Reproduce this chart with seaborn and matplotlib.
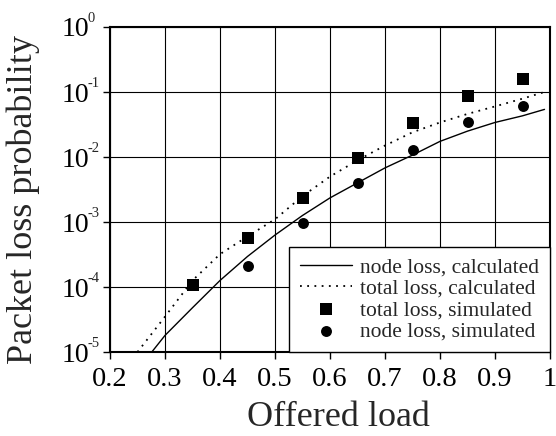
import numpy as np
import pandas as pd
import matplotlib
matplotlib.use("Agg")
import matplotlib.pyplot as plt
import matplotlib.transforms as mtransforms
import seaborn as sns
from matplotlib.ticker import FixedLocator, FixedFormatter

# ---- data ----
node_calc_x = [0.276, 0.30, 0.35, 0.40, 0.45, 0.50, 0.55, 0.60, 0.65, 0.70, 0.75, 0.80, 0.85, 0.90, 0.95, 0.99]
node_calc_y = [1.0e-5, 1.8e-5, 4.8e-5, 1.26e-4, 2.95e-4, 6.3e-4, 1.26e-3, 2.35e-3, 4.0e-3, 6.8e-3, 1.07e-2, 1.74e-2, 2.5e-2, 3.4e-2, 4.3e-2, 5.4e-2]
total_calc_x = [0.25, 0.30, 0.35, 0.40, 0.45, 0.50, 0.55, 0.60, 0.65, 0.70, 0.75, 0.80, 0.85, 0.90, 0.95, 0.99]
total_calc_y = [1.0e-5, 3.5e-5, 1.26e-4, 3.2e-4, 6.0e-4, 1.1e-3, 2.5e-3, 5.0e-3, 8.9e-3, 1.5e-2, 2.4e-2, 3.4e-2, 4.6e-2, 6.0e-2, 7.9e-2, 1.0e-1]
total_sim_x = [0.35, 0.45, 0.55, 0.65, 0.75, 0.85, 0.95]
total_sim_y = [1.07e-4, 5.6e-4, 2.3e-3, 9.6e-3, 3.3e-2, 8.7e-2, 1.58e-1]
node_sim_x = [0.45, 0.55, 0.65, 0.75, 0.85, 0.95]
node_sim_y = [2.1e-4, 9.6e-4, 4.0e-3, 1.3e-2, 3.5e-2, 6.1e-2]

x_ticks = [0.2, 0.3, 0.4, 0.5, 0.6, 0.7, 0.8, 0.9, 1.0]
x_tick_labels = ["0.2", "0.3", "0.4", "0.5", "0.6", "0.7", "0.8", "0.9", "1"]
y_ticks = [1e-5, 1e-4, 1e-3, 1e-2, 1e-1, 1e0]
y_tick_base = ["10", "10", "10", "10", "10", "10"]
y_tick_exps = ["-5", "-4", "-3", "-2", "-1", "0"]

sns.set_style("ticks")
plt.rcParams["font.family"] = ["Liberation Serif", "DejaVu Serif"]

fig = plt.figure(figsize=(5.56, 4.36), dpi=100)
ax = fig.add_axes([110/556, 1-352/436, 440/556, 325/436])

df_node = pd.DataFrame({"x": node_calc_x, "y": node_calc_y})
df_total = pd.DataFrame({"x": total_calc_x, "y": total_calc_y})
df_ts = pd.DataFrame({"x": total_sim_x, "y": total_sim_y})
df_ns = pd.DataFrame({"x": node_sim_x, "y": node_sim_y})

sns.lineplot(data=df_node, x="x", y="y", ax=ax, color="black", lw=1.0,
             label="node loss, calculated")
sns.lineplot(data=df_total, x="x", y="y", ax=ax, color="black", lw=1.3,
             linestyle=(0, (1, 3)), label="total loss, calculated")
sns.scatterplot(data=df_ts, x="x", y="y", ax=ax, color="black", marker="s",
                s=80, edgecolor="black", linewidth=0, label="total loss, simulated")
sns.scatterplot(data=df_ns, x="x", y="y", ax=ax, color="black", marker="o",
                s=62, edgecolor="black", linewidth=0, label="node loss, simulated")

ax.set_yscale("log")
ax.set_xlim(0.2, 1.0)
ax.set_ylim(1e-5, 1e0)
ax.xaxis.set_major_locator(FixedLocator(x_ticks))
ax.xaxis.set_major_formatter(FixedFormatter(x_tick_labels))
ax.yaxis.set_major_locator(FixedLocator(y_ticks))
ax.yaxis.set_major_formatter(FixedFormatter(y_tick_base))
ax.yaxis.set_minor_locator(FixedLocator([]))
ax.grid(True, which="major", color="black", lw=0.8)
ax.tick_params(axis="x", which="major", labelsize=20.5, length=5, width=1,
               direction="out", pad=6, colors="black")
ax.tick_params(axis="y", which="major", labelsize=20, length=5, width=1,
               direction="out", pad=10, colors="black")
for sp in ax.spines.values():
    sp.set_linewidth(1.5)
    sp.set_color("black")

# superscript exponents of the y tick labels
trans = mtransforms.blended_transform_factory(ax.transAxes, ax.transData)
for yv, ex in zip(y_ticks, y_tick_exps):
    ax.annotate(ex, xy=(0, yv), xycoords=trans, xytext=(-16, 6),
                textcoords="offset points", ha="left", va="center",
                fontsize=10.5, annotation_clip=False)

ax.set_xlabel("Offered load", fontsize=26)
ax.xaxis.set_label_coords(0.52, -0.152)
ax.set_ylabel("Packet loss probability", fontsize=26)
ax.yaxis.set_label_coords(-0.16, 0.47)

leg = ax.legend(loc="lower right", fontsize=15.5, frameon=True, fancybox=False,
                framealpha=1, edgecolor="black", borderpad=0.5, labelspacing=0.05,
                handlelength=2.4, handletextpad=0.4, borderaxespad=0.0)
leg.get_frame().set_linewidth(1.0)

fig.savefig("out.png", dpi=100)
